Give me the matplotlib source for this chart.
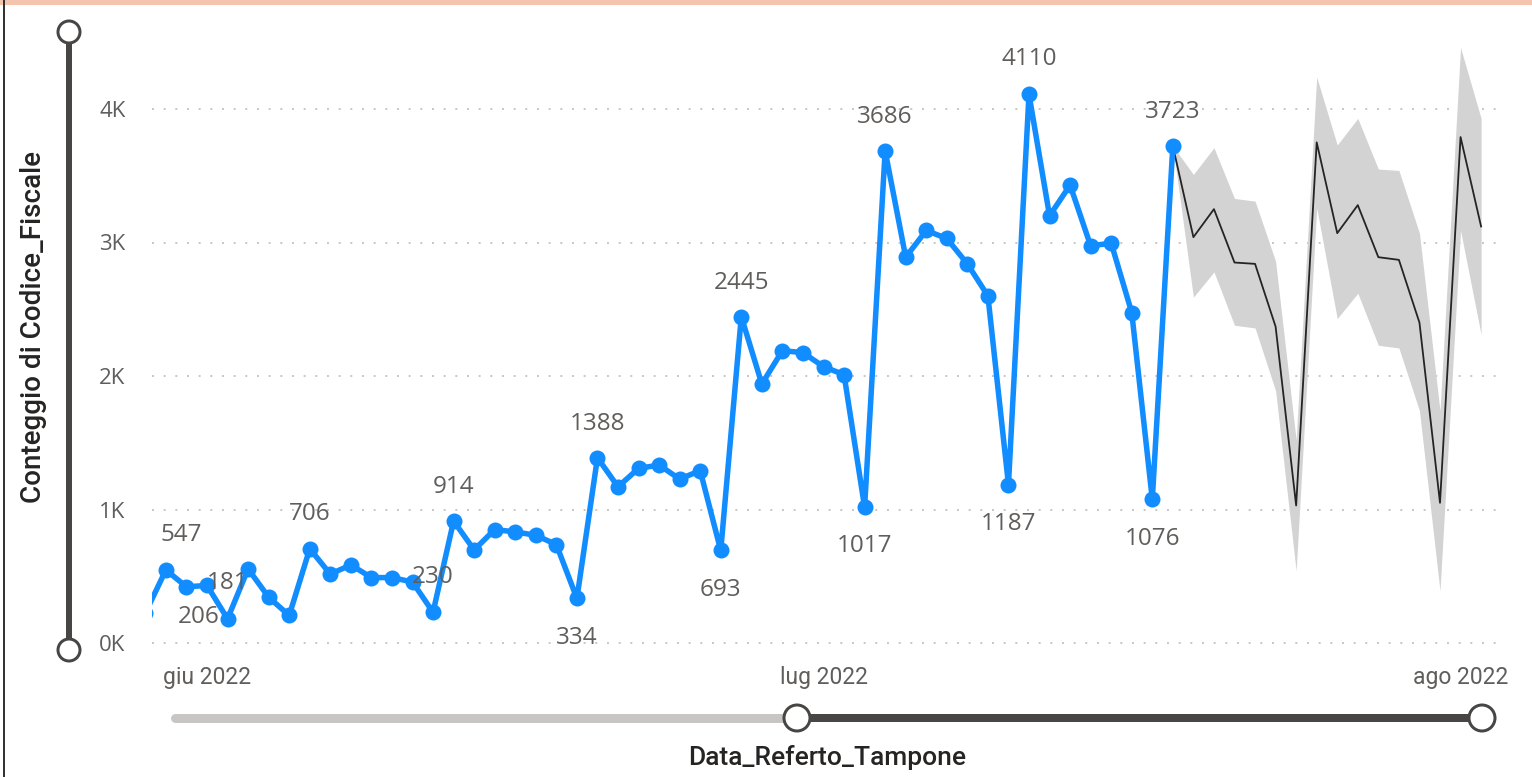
import matplotlib
matplotlib.use("Agg")
import matplotlib.pyplot as plt
import matplotlib.dates as mdates
from matplotlib.patches import Circle, Rectangle
import pandas as pd
import datetime as dt

# ---------------- data ----------------
observed_start = "2022-05-29"
observed_counts = [225, 547, 421, 431, 181, 555, 343, 206, 706, 516, 585, 490, 490,
                   457, 230, 914, 697, 850, 832, 807, 737, 334, 1388, 1170, 1308, 1333,
                   1228, 1291, 693, 2445, 1940, 2190, 2175, 2070, 2010, 1017, 3686, 2890,
                   3090, 3030, 2840, 2600, 1187, 4110, 3200, 3430, 2975, 2995, 2475, 1076,
                   3723]
forecast_start = "2022-07-18"
forecast_mid = [3723, 3040, 3250, 2850, 2840, 2370, 1030, 3750, 3070, 3280, 2890, 2870,
                2400, 1050, 3790, 3120]
forecast_upper = [3723, 3510, 3710, 3330, 3310, 2860, 1520, 4240, 3730, 3930, 3550, 3540,
                  3070, 1740, 4460, 3930]
forecast_lower = [3723, 2590, 2780, 2380, 2360, 1890, 540, 3260, 2430, 2620, 2230, 2210,
                  1740, 390, 3090, 2310]

# labelled points: (date, pixel offset x, pixel offset y)
label_dates = ["2022-05-30", "2022-06-02", "2022-06-05", "2022-06-06", "2022-06-12",
               "2022-06-13", "2022-06-19", "2022-06-20", "2022-06-26", "2022-06-27",
               "2022-07-03", "2022-07-04", "2022-07-10", "2022-07-11", "2022-07-17",
               "2022-07-18"]
label_dx = [15, 0, -91, 0, 0, 0, 0, 0, 0, 0, 0, 0, 0, 0, 0, 0]
label_dy = [35, 36, -2, 35, 35, 34, -40, 34, -40, 34, -39, 34, -39, 35, -40, 34]

y_ticks = [0, 1000, 2000, 3000, 4000]
y_tick_labels = ["0K", "1K", "2K", "3K", "4K"]
x_ticks = ["2022-06-01", "2022-07-01", "2022-08-01"]
x_tick_labels = ["giu 2022", "lug 2022", "ago 2022"]

y_title = "Conteggio di Codice_Fiscale"
x_title = "Data_Referto_Tampone"

# ---------------- figure ----------------
W, H = 1532, 777
fig = plt.figure(figsize=(W / 100, H / 100), dpi=100)
fig.patch.set_facecolor("white")

def px(v):
    return v * 0.72

ax_l, ax_r, ax_t, ax_b = 152, 1500, 30, 655
ax = fig.add_axes([ax_l / W, (H - ax_b) / H, (ax_r - ax_l) / W, (ax_b - ax_t) / H])
ax.set_facecolor("none")

obs_dates = pd.date_range(observed_start, periods=len(observed_counts), freq="D")
fc_dates = pd.date_range(forecast_start, periods=len(forecast_mid), freq="D")

BLUE = "#118DFF"
ax.fill_between(fc_dates, forecast_lower, forecast_upper, color="#D3D3D3", lw=0, zorder=1)
ax.plot(fc_dates, forecast_mid, color="#252423", lw=px(1.8), zorder=2)
ax.plot(obs_dates, observed_counts, color=BLUE, lw=px(5.5), marker="o",
        markersize=px(16), markeredgewidth=0, zorder=3, solid_joinstyle="round")

val_by_date = dict(zip(obs_dates.strftime("%Y-%m-%d"), observed_counts))
for d, dx, dy in zip(label_dates, label_dx, label_dy):
    v = val_by_date[d]
    ax.annotate(str(v), xy=(pd.Timestamp(d), v), xytext=(dx, dy),
                textcoords="offset pixels", ha="center", va="center",
                fontsize=17.5, color="#605E5C", family="Open Sans",
                annotation_clip=False, zorder=4)

base = mdates.date2num(dt.datetime(2022, 6, 1))
ppd = 20.55
ax.set_xlim(base + (ax_l - 207) / ppd, base + (ax_r - 207) / ppd)
ax.set_ylim(-(ax_b - 643) / 133.5 * 1000, (643 - ax_t) / 133.5 * 1000)

ax.set_yticks(y_ticks)
ax.set_yticklabels(y_tick_labels, family="Open Sans", fontsize=16, color="#605E5C")
ax.set_xticks([pd.Timestamp(t) for t in x_ticks])
ax.set_xticklabels(x_tick_labels, family="Roboto", fontsize=16.5, color="#605E5C")
ax.tick_params(axis="y", length=0, pad=19)
ax.tick_params(axis="x", length=0, pad=8)
for s in ax.spines.values():
    s.set_visible(False)
ax.yaxis.grid(True, linestyle=(0, (1, 5)), linewidth=1.4, color="#C8C6C4")
ax.xaxis.grid(False)
ax.set_axisbelow(True)

# ---------------- decorations (pixel overlay) ----------------
deco = fig.add_axes([0, 0, 1, 1])
deco.set_xlim(0, W)
deco.set_ylim(H, 0)
deco.axis("off")
deco.patch.set_alpha(0)

deco.add_patch(Rectangle((0, 0), W, 5, color="#F5C4AE", lw=0))
deco.plot([4, 4], [0, H], color="#333333", lw=px(2))

DARK = "#484644"
deco.plot([69, 69], [32, 650], color=DARK, lw=px(6), solid_capstyle="butt")
for cy in (32, 650):
    deco.add_patch(Circle((69, cy), 11, facecolor="white", edgecolor=DARK, lw=px(3), zorder=5))

deco.plot([175, 797], [718, 718], color="#C8C6C4", lw=px(9), solid_capstyle="round")
deco.plot([797, 1482], [718, 718], color=DARK, lw=px(8), solid_capstyle="butt")
for cx in (797, 1482):
    deco.add_patch(Circle((cx, 718), 13, facecolor="white", edgecolor=DARK, lw=px(3), zorder=5))

deco.text(34, 327, y_title, rotation=90, ha="center", va="center", fontsize=20,
          color="#252423", family="Roboto", fontweight="medium")
deco.text(827, 757, x_title, ha="center", va="center", fontsize=19,
          color="#252423", family="Roboto", fontweight="medium")

fig.savefig("out.png", dpi=100)
